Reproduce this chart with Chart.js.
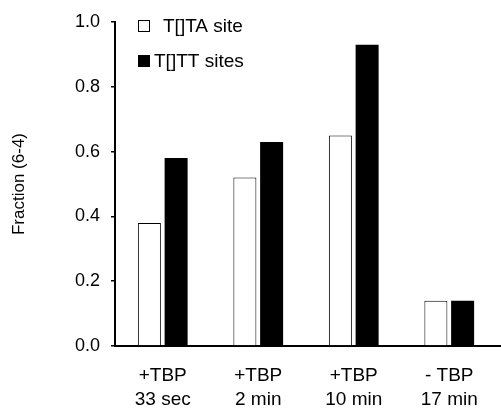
<!DOCTYPE html>
<html>
<head>
<meta charset="utf-8">
<script src="https://cdn.jsdelivr.net/npm/chart.js@4/dist/chart.umd.min.js"></script>
<style>
  html, body { margin: 0; padding: 0; background: #fff; }
  #wrap { width: 501px; height: 409px; }
</style>
</head>
<body>
<div id="wrap"><canvas id="fractionChart" width="501" height="409"></canvas></div>
<script>
// data
const categories = [['+TBP', '33 sec'], ['+TBP', '2 min'], ['+TBP', '10 min'], ['- TBP', '17 min']];
const seriesNames = ['T[]TA site', 'T[]TT sites'];
const ttaValues = [0.38, 0.52, 0.65, 0.14];
const tttValues = [0.58, 0.63, 0.93, 0.14];
const yTicks = [0, 0.2, 0.4, 0.6, 0.8, 1.0];

const FONT = 'Liberation Sans, Arial, Helvetica, sans-serif';

// hand drawn legend in the top left of the plot
const legendBoxes = {
    id: 'legendBoxes',
    afterDraw(chart) {
        const ctx = chart.ctx;
        const rows = [
            { y: 26, textX: 163 },
            { y: 61, textX: 154 }
        ];
        ctx.save();
        ctx.font = '19px ' + FONT;
        ctx.textBaseline = 'middle';
        ctx.fillStyle = '#000';
        chart.data.datasets.forEach(function(ds, i) {
            const r = rows[i];
            ctx.fillStyle = ds.backgroundColor;
            ctx.fillRect(138, r.y - 6, 12, 12);
            if (ds.backgroundColor === '#ffffff') {
                ctx.strokeStyle = '#000';
                ctx.lineWidth = 1;
                ctx.strokeRect(138.5, r.y - 5.5, 11, 11);
            }
            ctx.fillStyle = '#000';
            ctx.fillText(ds.label, r.textX, r.y + 1);
        });
        // axis line runs on to the edge of the figure
        const a = chart.chartArea;
        ctx.strokeStyle = '#000';
        ctx.lineWidth = 2;
        ctx.beginPath();
        ctx.moveTo(a.right, a.bottom);
        ctx.lineTo(chart.width, a.bottom);
        ctx.stroke();
        ctx.restore();
    }
};

const ctx = document.getElementById('fractionChart').getContext('2d');
new Chart(ctx, {
    type: 'bar',
    data: {
        labels: categories,
        datasets: [{
            label: seriesNames[0],
            data: ttaValues,
            backgroundColor: '#ffffff',
            borderColor: '#000000',
            borderWidth: 1,
            borderSkipped: 'bottom'
        }, {
            label: seriesNames[1],
            data: tttValues,
            backgroundColor: '#000000',
            borderWidth: 0
        }]
    },
    options: {
        responsive: false,
        animation: false,
        devicePixelRatio: 1,
        categoryPercentage: 0.56,
        barPercentage: 0.86,
        layout: { padding: { top: 22, right: 4, left: 0, bottom: 0 } },
        plugins: {
            legend: { display: false },
            tooltip: { enabled: false }
        },
        scales: {
            x: {
                grid: { display: false, drawTicks: false },
                border: { display: true, color: '#000', width: 2 },
                ticks: {
                    color: '#000',
                    padding: 17,
                    maxRotation: 0,
                    font: { family: FONT, size: 19, lineHeight: 1.3 }
                },
                afterFit(scale) { scale.height = 63; }
            },
            y: {
                min: 0,
                max: 1,
                afterBuildTicks(scale) {
                    scale.ticks = yTicks.map(v => ({ value: v }));
                },
                grid: {
                    display: true,
                    drawOnChartArea: false,
                    drawTicks: true,
                    tickLength: 4,
                    color: '#000',
                    lineWidth: 1.5
                },
                border: { display: true, color: '#000', width: 2 },
                ticks: {
                    color: '#000',
                    padding: 11,
                    font: { family: FONT, size: 18 },
                    callback: v => v.toFixed(1)
                },
                title: {
                    display: true,
                    text: 'Fraction (6-4)',
                    color: '#000',
                    padding: { top: 9, bottom: 0 },
                    font: { family: FONT, size: 17 }
                },
                afterFit(scale) { scale.width = 115; }
            }
        }
    },
    plugins: [legendBoxes]
});
</script>
</body>
</html>
